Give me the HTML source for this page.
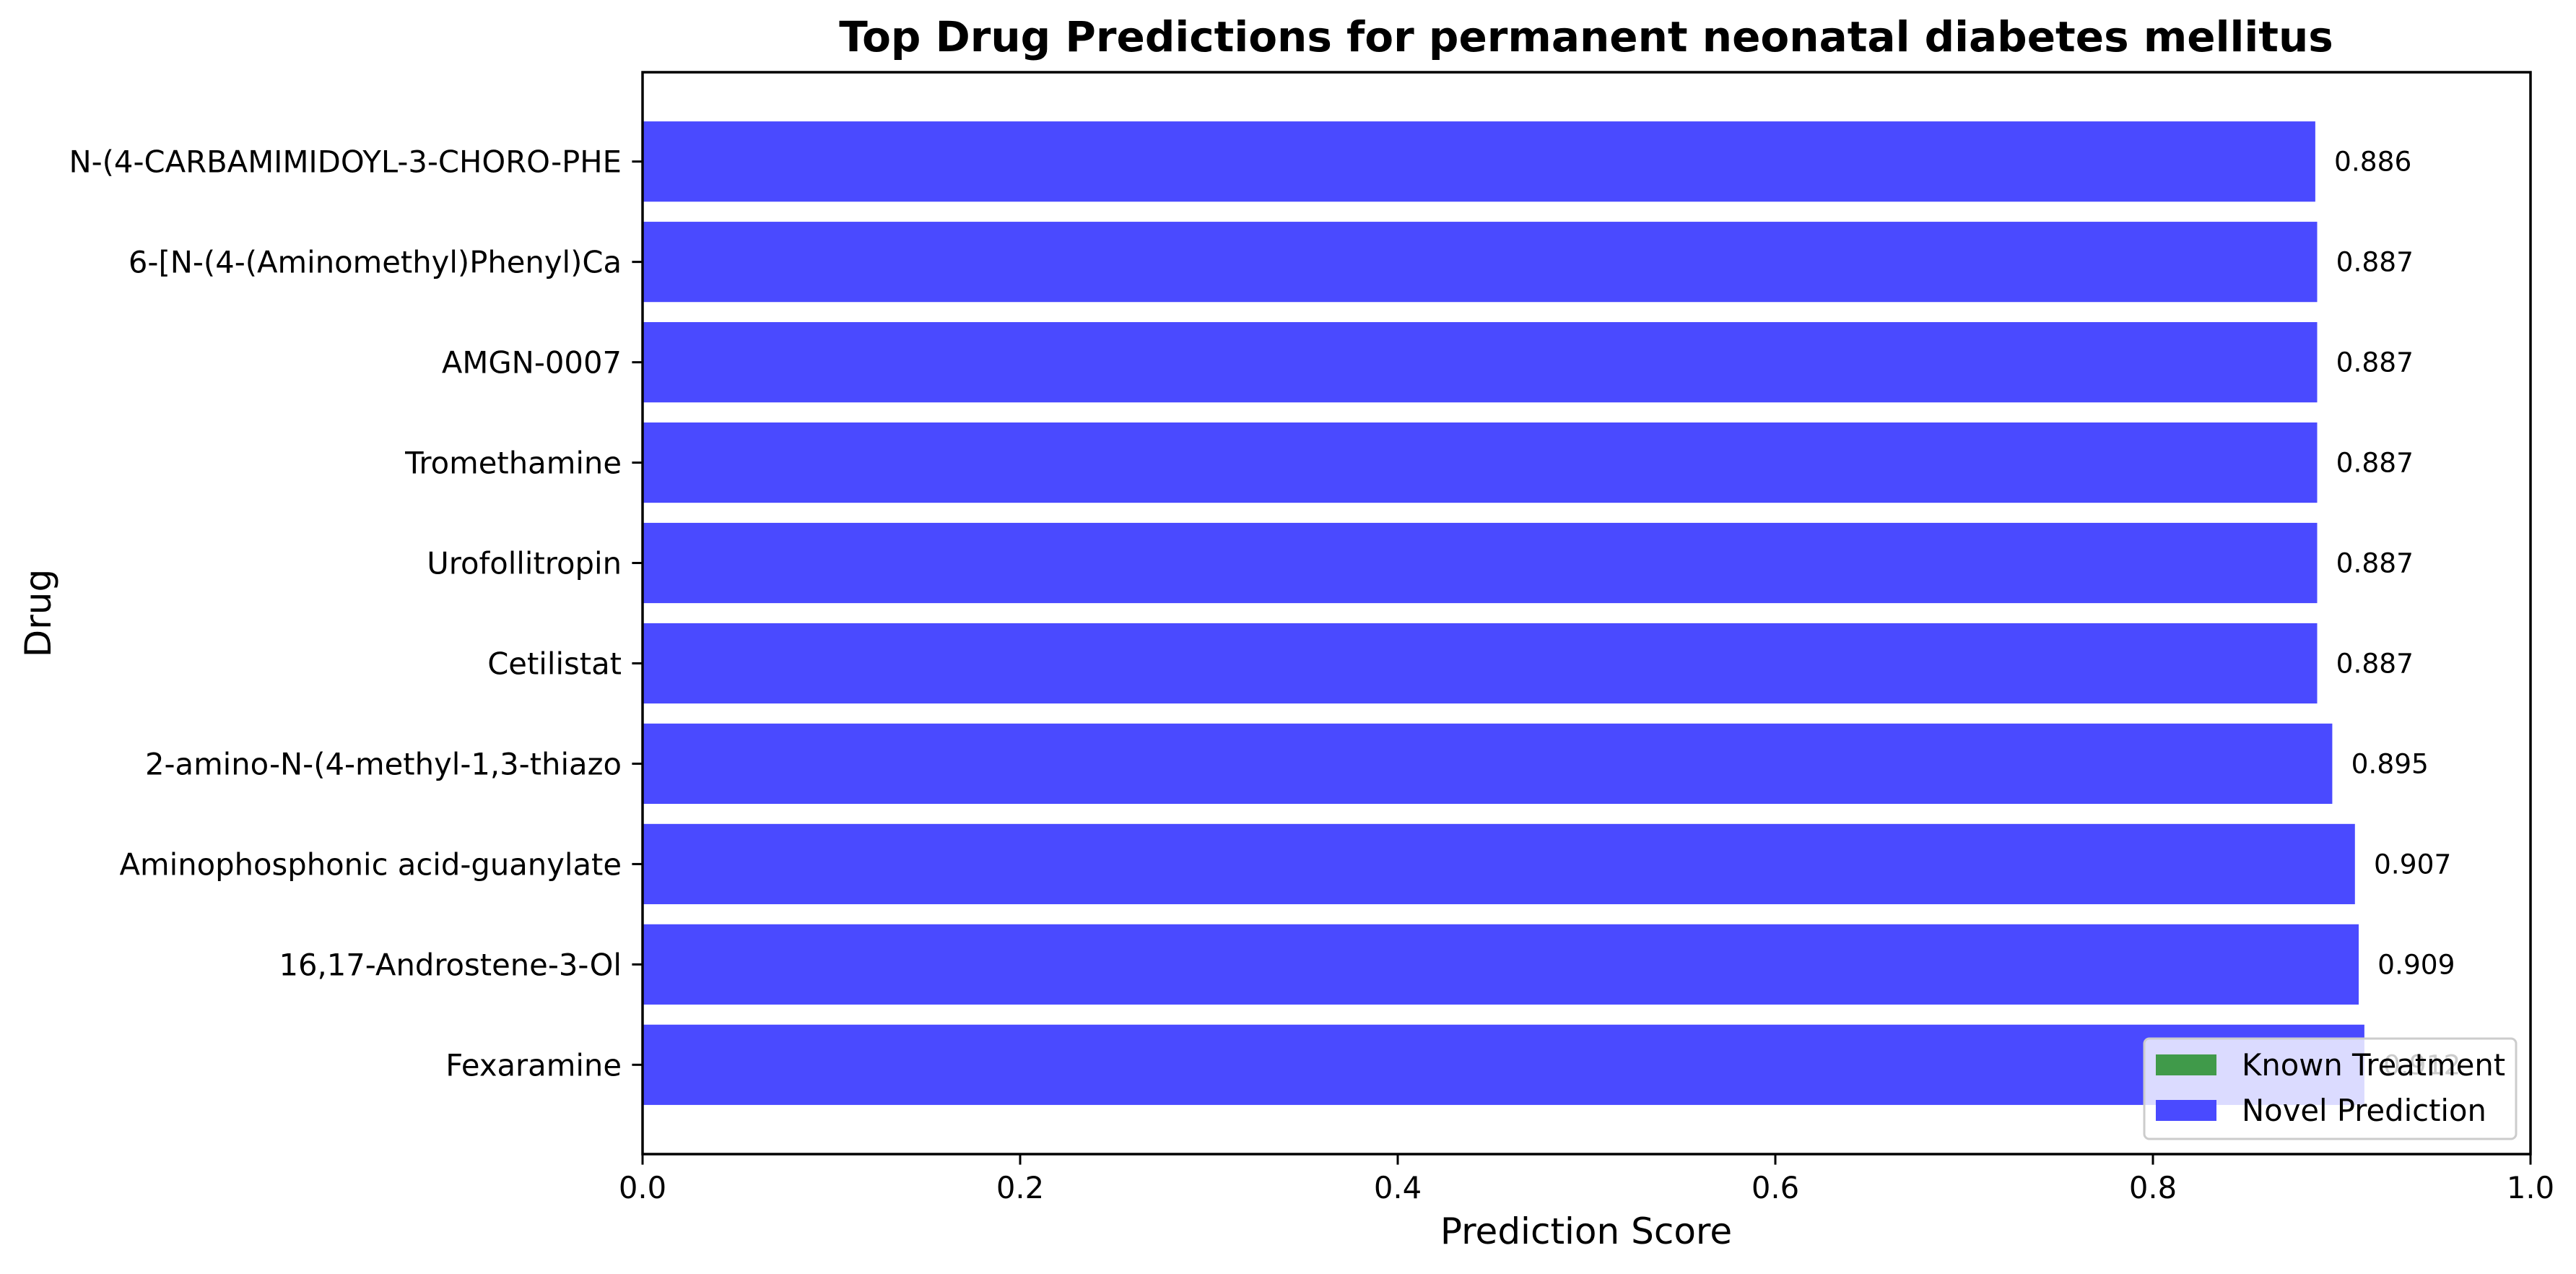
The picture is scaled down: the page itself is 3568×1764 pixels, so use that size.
<!DOCTYPE html>
<html><head><meta charset="utf-8"><style>
html,body{margin:0;padding:0;background:#fff;}
svg{display:block;font-family:"DejaVu Sans","Liberation Sans",sans-serif;}
</style></head><body>
<svg id="chart" width="3568" height="1764" viewBox="0 0 3568 1764" xmlns="http://www.w3.org/2000/svg">
<rect width="3568" height="1764" fill="#fff"/>
<text x="2197" y="71" text-anchor="middle" font-size="58" font-weight="bold">Top Drug Predictions for permanent neonatal diabetes mellitus</text>
<text x="2197" y="1722" text-anchor="middle" font-size="50">Prediction Score</text>
<text x="0" y="0" transform="translate(70,849) rotate(-90)" text-anchor="middle" font-size="50">Drug</text>
<g id="bars"></g>
<g id="labels"></g>
<g id="xticks"></g>
<rect x="890" y="100" width="2615" height="1498" fill="none" stroke="#000" stroke-width="3.5"/>
<g>
<rect x="2970" y="1438" width="515" height="139" rx="7" fill="#fff" fill-opacity="0.8" stroke="#cccccc" stroke-width="3"/>
<rect x="2986" y="1460" width="84" height="29" fill="#409a4a"/>
<text x="3105" y="1489" font-size="41.7">Known Treatment</text>
<rect x="2986" y="1523" width="84" height="29" fill="#4a4aff"/>
<text x="3105" y="1552" font-size="41.7">Novel Prediction</text>
</g>
</svg>
<script>
const drugs = ["Fexaramine","16,17-Androstene-3-Ol","Aminophosphonic acid-guanylate","2-amino-N-(4-methyl-1,3-thiazo","Cetilistat","Urofollitropin","Tromethamine","AMGN-0007","6-[N-(4-(Aminomethyl)Phenyl)Ca","N-(4-CARBAMIMIDOYL-3-CHORO-PHE"];
const scores = [0.912,0.909,0.907,0.895,0.887,0.887,0.887,0.887,0.887,0.886];
const known = [false,false,false,false,false,false,false,false,false,false];
const xTicks = [0,0.2,0.4,0.6,0.8,1.0];
const xTickLabels = ["0.0","0.2","0.4","0.6","0.8","1.0"];

const NS="http://www.w3.org/2000/svg";
const L=890,R=3505,T=100,B=1598;
const yLo=-0.89,yHi=9.89;
function xs(v){return L+v*(R-L);}
function ys(v){return B-(v-yLo)*(B-T)/(yHi-yLo);}
function mk(tag,attrs){const e=document.createElementNS(NS,tag);for(const k in attrs)e.setAttribute(k,attrs[k]);return e;}
const gb=document.getElementById('bars'),gl=document.getElementById('labels'),gx=document.getElementById('xticks');
const bh=ys(0)-ys(0.8);
drugs.forEach((d,i)=>{
  const r=mk('rect',{x:xs(0),y:ys(i+0.4),width:xs(scores[i])-xs(0),height:bh,fill:known[i]?'#409a4a':'#4a4aff'});
  
  
  gb.appendChild(r);
  const v=mk('text',{x:xs(scores[i]+0.01),y:ys(i)+13,'font-size':37.5});
  v.textContent=scores[i].toFixed(3);
  
  
  gl.appendChild(v);
  const t=mk('line',{x1:L-14.6,x2:L,y1:ys(i),y2:ys(i),stroke:'#000','stroke-width':3});
  
  
  gl.appendChild(t);
  const lb=mk('text',{x:L-29,y:ys(i)+15,'text-anchor':'end','font-size':41.7});
  lb.textContent=d;
  
  
  gl.appendChild(lb);
});
xTicks.forEach((v,i)=>{
  const t=mk('line',{x1:xs(v),x2:xs(v),y1:B,y2:B+14.6,stroke:'#000','stroke-width':3});
  
  
  gx.appendChild(t);
  const lb=mk('text',{x:xs(v),y:B+61,'text-anchor':'middle','font-size':41.7});
  lb.textContent=xTickLabels[i];
  
  
  gx.appendChild(lb);
});
</script>
</body></html>
